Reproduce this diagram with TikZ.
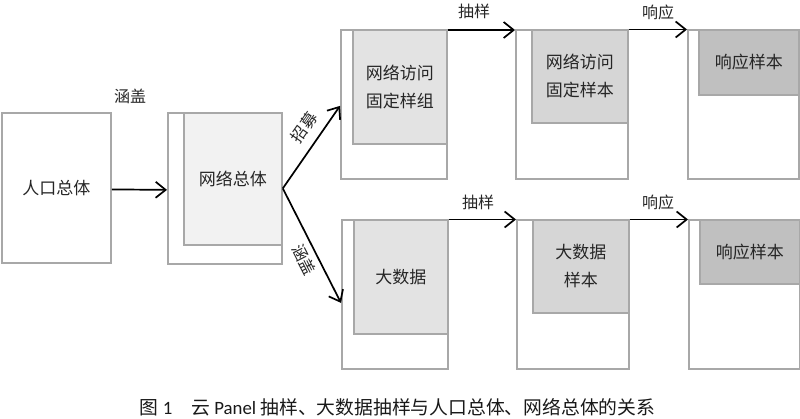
\documentclass[tikz,border=0pt]{standalone}
\usepackage{fontspec}
\setmainfont{Carlito}
\newfontfamily\cjk{Noto Sans CJK SC}
\usetikzlibrary{arrows.meta}
\definecolor{boxgray}{HTML}{A8A8A8}
\definecolor{fillA}{HTML}{F2F2F2}
\definecolor{fillB}{HTML}{E3E3E3}
\definecolor{fillC}{HTML}{D6D6D6}
\definecolor{fillD}{HTML}{C0C0C0}
\begin{document}
\begin{tikzpicture}[x=1pt,y=-1pt,
  outerbox/.style={draw=boxgray, line width=1.8pt, fill=white, anchor=north west, inner sep=0pt},
  innerbox/.style={draw=boxgray, line width=1.8pt, anchor=north west, inner sep=0pt, align=center,
     font=\cjk\fontsize{17}{28}\selectfont, text=black!85},
  lbl/.style={font=\cjk\fontsize{16}{18}\selectfont, inner sep=0pt, text=black!85},
  arr/.style={line width=1.7pt, -{Straight Barb[length=10pt,width=16pt]}}
]
\useasboundingbox (0,0) rectangle (800,419);

% population
\node[outerbox, minimum width=109pt, minimum height=150pt, align=center,
      font=\cjk\fontsize{17}{28}\selectfont, text=black!85] (pop) at (1,112) {人口总体};
% network population
\node[outerbox, minimum width=114pt, minimum height=151pt] (neto) at (167,112) {};
\node[innerbox, fill=fillA, minimum width=98pt, minimum height=132pt] (neti) at (183,112) {网络总体};

% top row
\node[outerbox, minimum width=106pt, minimum height=149pt] (tlo) at (340,29) {};
\node[innerbox, fill=fillB, minimum width=94pt, minimum height=114pt] (tli) at (352,29) {网络访问\\固定样组};
\node[outerbox, minimum width=112pt, minimum height=149pt] (tmo) at (515,29) {};
\node[innerbox, fill=fillC, minimum width=96pt, minimum height=93pt] (tmi) at (531,29) {网络访问\\固定样本};
\node[outerbox, minimum width=111pt, minimum height=149pt] (tro) at (687,29) {};
\node[innerbox, fill=fillD, minimum width=100pt, minimum height=65pt] (tri) at (698,29) {响应样本};

% bottom row
\node[outerbox, minimum width=106pt, minimum height=149pt] (blo) at (341,219) {};
\node[innerbox, fill=fillB, minimum width=94pt, minimum height=114pt] (bli) at (353,219) {大数据};
\node[outerbox, minimum width=112pt, minimum height=149pt] (bmo) at (516,219) {};
\node[innerbox, fill=fillC, minimum width=96pt, minimum height=93pt] (bmi) at (532,219) {大数据\\样本};
\node[outerbox, minimum width=111pt, minimum height=149pt] (bro) at (688,219) {};
\node[innerbox, fill=fillD, minimum width=100pt, minimum height=64pt] (bri) at (699,219) {响应样本};

% arrows
\draw[arr] ([yshift=-1.5pt]pop.east) -- ([yshift=-1.5pt]neto.west);
\draw[arr] (neto.east) -- node[lbl, sloped, pos=0.62, above=9pt] {招募} ([yshift=-1.5pt]tlo.west);
\draw[arr] (neto.east) -- node[lbl, sloped, pos=0.57, below=5pt] {涵盖} ([yshift=-8.5pt]blo.west);
\draw[arr] ([yshift=-1pt]tlo.north east) -- ([yshift=-1pt]tmo.north west);
\draw[arr] ([yshift=-0.5pt]tmo.north east) -- ([yshift=-0.5pt]tro.north west);
\draw[arr] ([yshift=-0.5pt]blo.north east) -- ([yshift=-0.5pt]bmo.north west);
\draw[arr] ([yshift=-0.5pt]bmo.north east) -- ([yshift=-0.5pt]bro.north west);

% labels
\node[lbl] (l1) at (130,96) {涵盖};
\node[lbl] (l2) at (474,11) {抽样};
\node[lbl] (l3) at (658,12) {响应};
\node[lbl] (l4) at (478,202) {抽样};
\node[lbl] (l5) at (658,202) {响应};

% caption
\node[inner sep=0pt, font=\fontsize{18.8}{22}\selectfont, text=black!90] (cap) at (397.5,407.5)
  {{\cjk 图}~1\hspace{19pt}{\cjk 云}~Panel~{\cjk 抽样、大数据抽样与人口总体、网络总体的关系}};
\end{tikzpicture}
\end{document}
